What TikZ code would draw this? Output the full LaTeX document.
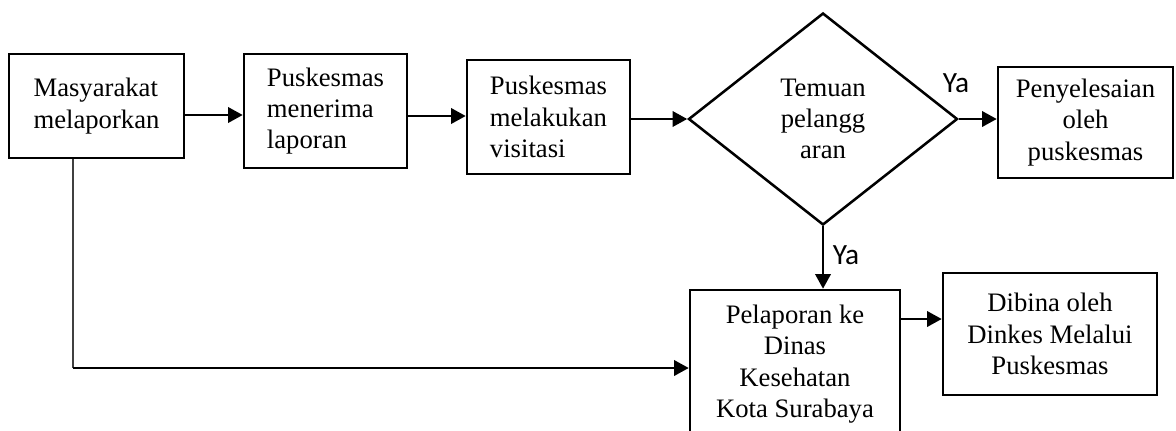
\documentclass[tikz,border=0pt]{standalone}
\usepackage{fontspec}
\setmainfont{Liberation Serif}
\newfontfamily\labelfont{Carlito}
\usetikzlibrary{shapes.geometric,arrows.meta}

\tikzset{
  stepbox/.style={draw, line width=1.9pt, rectangle, inner sep=0pt,
    font=\fontsize{20}{23.5}\selectfont},
  decision/.style={draw, line width=1.9pt, diamond, inner sep=0pt, align=center,
    font=\fontsize{20}{23}\selectfont},
  arr/.style={line width=1.9pt, -{Triangle[length=11pt,width=11.5pt]}},
  yes/.style={font=\labelfont\fontsize{22}{26}\selectfont, inner sep=0pt}
}

\begin{document}
\begin{tikzpicture}[x=0.75pt,y=-0.75pt]
\useasboundingbox (0,0) rectangle (1176,430);

% process steps
\node[stepbox, align=left, minimum width=131.25pt, minimum height=78pt]
  (b1) at (96.5,106) {Masyarakat\\melaporkan};
\node[stepbox, align=left, minimum width=122.25pt, minimum height=85.5pt]
  (b2) at (325.5,111) {Puskesmas\\menerima\\laporan};
\node[stepbox, align=left, minimum width=122.25pt, minimum height=85.5pt]
  (b3) at (548.5,117) {Puskesmas\\melakukan\\visitasi};
\node[decision, minimum width=201.75pt, minimum height=159pt]
  (dia) at (823,119) {Temuan\\pelangg\\aran};
\node[stepbox, align=center, minimum width=131.25pt, minimum height=83.25pt]
  (b4) at (1085.5,122.5) {Penyelesaian\\oleh\\puskesmas};
\node[stepbox, align=center, minimum width=157.5pt, minimum height=111pt]
  (b5) at (795,364) {Pelaporan ke\\Dinas\\Kesehatan\\Kota Surabaya};
\node[stepbox, align=center, minimum width=160.5pt, minimum height=91.5pt]
  (b6) at (1050,334) {Dibina oleh\\Dinkes Melalui\\Puskesmas};

% branch labels
\node[yes] (ya1) at (956,83) {Ya};
\node[yes] (ya2) at (846,255) {Ya};

% connectors
\coordinate (a1) at ([yshift=-6.75pt]b1.east);
\draw[arr] (a1) -- (a1 -| b2.west);
\coordinate (a2) at ([yshift=-3.75pt]b2.east);
\draw[arr] (a2) -- (a2 -| b3.west);
\draw[arr] (dia.west -| b3.east) -- (dia.west);
\draw[arr] (dia.east) -- (dia.east -| b4.west);
\draw[arr] (dia.south) -- (dia.south |- b5.north);
\coordinate (a5) at ([yshift=33.75pt]b5.east);
\draw[arr] (a5) -- (a5 -| b6.west);

% direct report route
\coordinate (c1) at ([xshift=-17.625pt]b1.south);
\coordinate (c2) at ([yshift=-3pt]b5.west);
\draw[line width=1.1pt, black!75] (c1) -- (c1 |- c2);
\draw[arr] (c1 |- c2) -- (c2);
\end{tikzpicture}
\end{document}
